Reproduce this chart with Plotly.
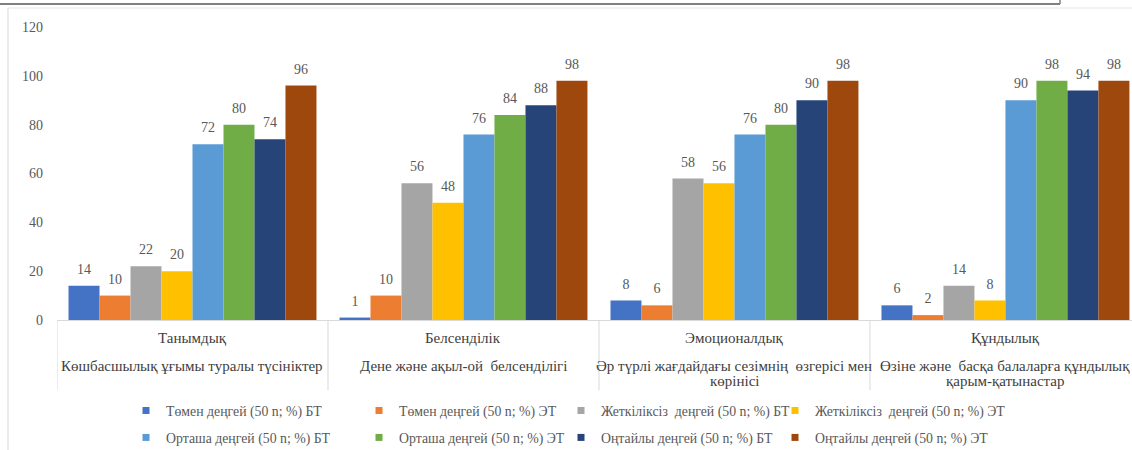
import plotly.graph_objects as go

categories = ["Танымдық", "Белсенділік", "Эмоционалдық", "Құндылық"]
descriptions = [
    ["Көшбасшылық ұғымы туралы түсініктер"],
    ["Дене және ақыл-ой  белсенділігі"],
    ["Әр түрлі жағдайдағы сезімнің  өзгерісі мен", "көрінісі"],
    ["Өзіне және  басқа балаларға құндылық", "қарым-қатынастар"],
]
series_names = [
    "Төмен деңгей (50 n; %) БТ",
    "Төмен деңгей (50 n; %) ЭТ",
    "Жеткіліксіз  деңгей (50 n; %) БТ",
    "Жеткіліксіз  деңгей (50 n; %) ЭТ",
    "Орташа деңгей (50 n; %) БТ",
    "Орташа деңгей (50 n; %) ЭТ",
    "Оңтайлы деңгей (50 n; %) БТ",
    "Оңтайлы деңгей (50 n; %) ЭТ",
]
values = [
    [14, 1, 8, 6],
    [10, 10, 6, 2],
    [22, 56, 58, 14],
    [20, 48, 56, 8],
    [72, 76, 76, 90],
    [80, 84, 80, 98],
    [74, 88, 90, 94],
    [96, 98, 98, 98],
]
colors = ["#4472C4", "#ED7D31", "#A5A5A5", "#FFC000",
          "#5B9BD5", "#70AD47", "#264478", "#9E480E"]
y_ticks = [0, 20, 40, 60, 80, 100, 120]

FONT = "Liberation Serif"
GRAY = "#595959"
LABEL_PAD = 2.4  # extra room (axis units) between bar top and its value label

fig = go.Figure()
for i, (name, vals, col) in enumerate(zip(series_names, values, colors)):
    fig.add_trace(go.Bar(
        x=categories, y=vals, name=name, marker_color=col,
        marker_line_width=0, offsetgroup=str(i), showlegend=False,
        hoverinfo="x+y",
    ))
    # transparent spacer carrying the value label just above the bar
    fig.add_trace(go.Bar(
        x=categories, y=[LABEL_PAD] * len(vals), base=vals,
        marker_color="rgba(0,0,0,0)", marker_line_width=0,
        offsetgroup=str(i), showlegend=False, hoverinfo="skip",
        text=vals, textposition="outside", cliponaxis=False,
        textfont=dict(family=FONT, size=14, color=GRAY),
    ))

legend_ids = ["legend", "legend2", "legend3", "legend4"]
for i, (name, col) in enumerate(zip(series_names, colors)):
    fig.add_trace(go.Scatter(
        x=[None], y=[None], mode="markers", name=name,
        marker=dict(symbol="square", size=7, color=col),
        legend=legend_ids[i % 4], legendgroup=f"g{i}", showlegend=True,
        legendrank=i,
    ))

plot_left, plot_w = 57, 1075
legend_text_x = [166, 399, 601, 815]
leg_layout = {}
for k, lid in enumerate(legend_ids):
    leg_layout[lid] = dict(
        x=(legend_text_x[k] - 40 - plot_left) / plot_w, xanchor="left",
        yref="container", y=(450 - 395) / 450, yanchor="top", orientation="v",
        font=dict(family=FONT, size=13.8, color=GRAY),
        bgcolor="rgba(0,0,0,0)", tracegroupgap=6, itemwidth=30,
    )

annotations = []
for cat, desc in zip(categories, descriptions):
    annotations.append(dict(x=cat, xref="x", y=0, yref="paper", yanchor="middle",
                            yshift=-18, text=cat, showarrow=False,
                            font=dict(family=FONT, size=15, color="#404040")))
    for j, line in enumerate(desc):
        annotations.append(dict(x=cat, xref="x", y=0, yref="paper", yanchor="middle",
                                yshift=-46 - 15 * j, text=line, showarrow=False,
                                font=dict(family=FONT, size=15, color="#404040")))

shapes = []
for b in [-0.5, 0.5, 1.5, 2.5]:
    shapes.append(dict(type="line", xref="x", yref="paper", x0=b, x1=b,
                       y0=0, y1=-0.24, line=dict(color="#D9D9D9", width=1)))
shapes.append(dict(type="line", xref="paper", yref="paper",
                   x0=(8 - plot_left) / plot_w, x1=(8 - plot_left) / plot_w,
                   y0=(320 - 8) / 293, y1=(320 - 452) / 293,
                   line=dict(color="#D9D9D9", width=1)))
shapes.append(dict(type="line", xref="paper", yref="paper",
                   x0=(8 - plot_left) / plot_w, x1=1.01,
                   y0=(320 - 8) / 293, y1=(320 - 8) / 293,
                   line=dict(color="#E6E6E6", width=1)))
shapes.append(dict(type="line", xref="paper", yref="paper",
                   x0=-0.06, x1=(1060 - plot_left) / plot_w,
                   y0=(320 - 4) / 293, y1=(320 - 4) / 293,
                   line=dict(color="#808080", width=2)))
shapes.append(dict(type="line", xref="paper", yref="paper",
                   x0=(1060 - plot_left) / plot_w, x1=(1060 - plot_left) / plot_w,
                   y0=(320 - 4) / 293, y1=(320 + 5) / 293,
                   line=dict(color="#808080", width=1.5)))

fig.update_layout(
    width=1132, height=450,
    margin=dict(l=57, r=0, t=27, b=130),
    paper_bgcolor="white", plot_bgcolor="white",
    font=dict(family=FONT),
    barmode="group", bargap=0.085, bargroupgap=0,
    xaxis=dict(type="category", range=[-0.5, 3.467], showticklabels=False,
               showline=True, linecolor="#D9D9D9", linewidth=1, showgrid=False,
               zeroline=False, fixedrange=True),
    yaxis=dict(range=[0, 120], tickvals=y_ticks, showgrid=False, zeroline=False,
               showline=False, ticklabelstandoff=13,
               tickfont=dict(family=FONT, size=14, color=GRAY)),
    annotations=annotations, shapes=shapes,
    **leg_layout,
)

fig.write_html("out.html")
